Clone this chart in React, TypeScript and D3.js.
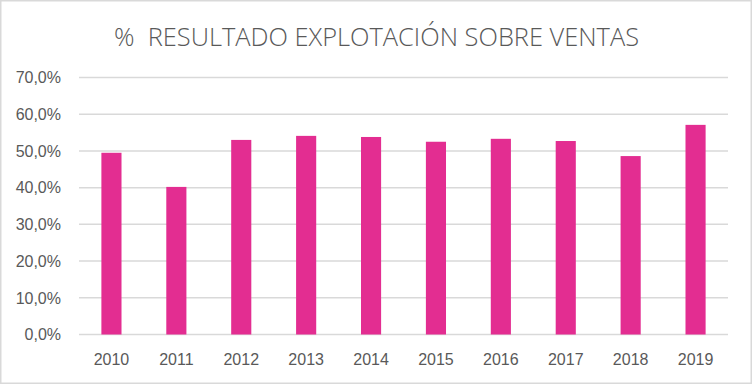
import React from 'react';
import * as d3 from 'd3';

const years = ['2010', '2011', '2012', '2013', '2014', '2015', '2016', '2017', '2018', '2019'];
const ratios = [49.5, 40.2, 53.0, 54.1, 53.8, 52.5, 53.3, 52.7, 48.6, 57.1];
const yTicks = [0, 10, 20, 30, 40, 50, 60, 70];
const title = '%  RESULTADO EXPLOTACIÓN SOBRE VENTAS';

const App = () => {
	const svgWidth = 752;
	const svgHeight = 384;
	const margin = { top: 77.5, right: 24, bottom: 49.5, left: 79 };
	const width = svgWidth - margin.left - margin.right;
	const height = svgHeight - margin.top - margin.bottom;

	const xScale = d3.scaleBand().domain(years).range([0, width]).paddingInner(0.69).paddingOuter(0.345);
	const yScale = d3.scaleLinear().domain([0, 70]).range([height, 0]);
	const fmt = (v: number) => v.toFixed(1).replace('.', ',') + '%';
	const font = "'Liberation Sans', Arial, sans-serif";

	return (
		<svg
			width={svgWidth}
			height={svgHeight}
			style={{ position: 'absolute', left: 0, top: 0, background: '#fff' }}
		>
			{/* border */}
			<rect x={0.75} y={0.75} width={svgWidth - 1.5} height={svgHeight - 1.5} fill='#fff' stroke='#d9d9d9' strokeWidth={1.5} />
			{/* title */}
			<text
				x={svgWidth / 2 + 0.5}
				y={46}
				textAnchor='middle'
				fontFamily="'Open Sans', 'Liberation Sans', sans-serif"
				fontWeight={300}
				fontSize={25}
				fill='#595959'
				textLength={525}
				lengthAdjust='spacingAndGlyphs'
				style={{ whiteSpace: 'pre' }}
			>
				{title}
			</text>
			<g transform={`translate(${margin.left},${margin.top})`}>
				{/* gridlines */}
				{yTicks.map((t) => (
					<line key={'g' + t} x1={0} x2={width} y1={yScale(t)} y2={yScale(t)} stroke='#d9d9d9' strokeWidth={1.5} />
				))}
				{/* y labels */}
				{yTicks.map((t) => (
					<text
						key={'l' + t}
						x={-18}
						y={yScale(t)}
						dy='0.36em'
						textAnchor='end'
						fontFamily={font}
						fontSize={16}
						fill='#595959'
					>
						{fmt(t)}
					</text>
				))}
				{/* bars */}
				{years.map((y, i) => (
					<rect
						key={y}
						x={xScale(y)}
						y={yScale(ratios[i])}
						width={xScale.bandwidth()}
						height={height - yScale(ratios[i])}
						fill='#e32d91'
					/>
				))}
				{/* x labels */}
				{years.map((y) => (
					<text
						key={'x' + y}
						x={(xScale(y) as number) + xScale.bandwidth() / 2}
						y={height + 30}
						textAnchor='middle'
						fontFamily={font}
						fontSize={16}
						fill='#595959'
					>
						{y}
					</text>
				))}
			</g>
		</svg>
	);
};

export default App;
